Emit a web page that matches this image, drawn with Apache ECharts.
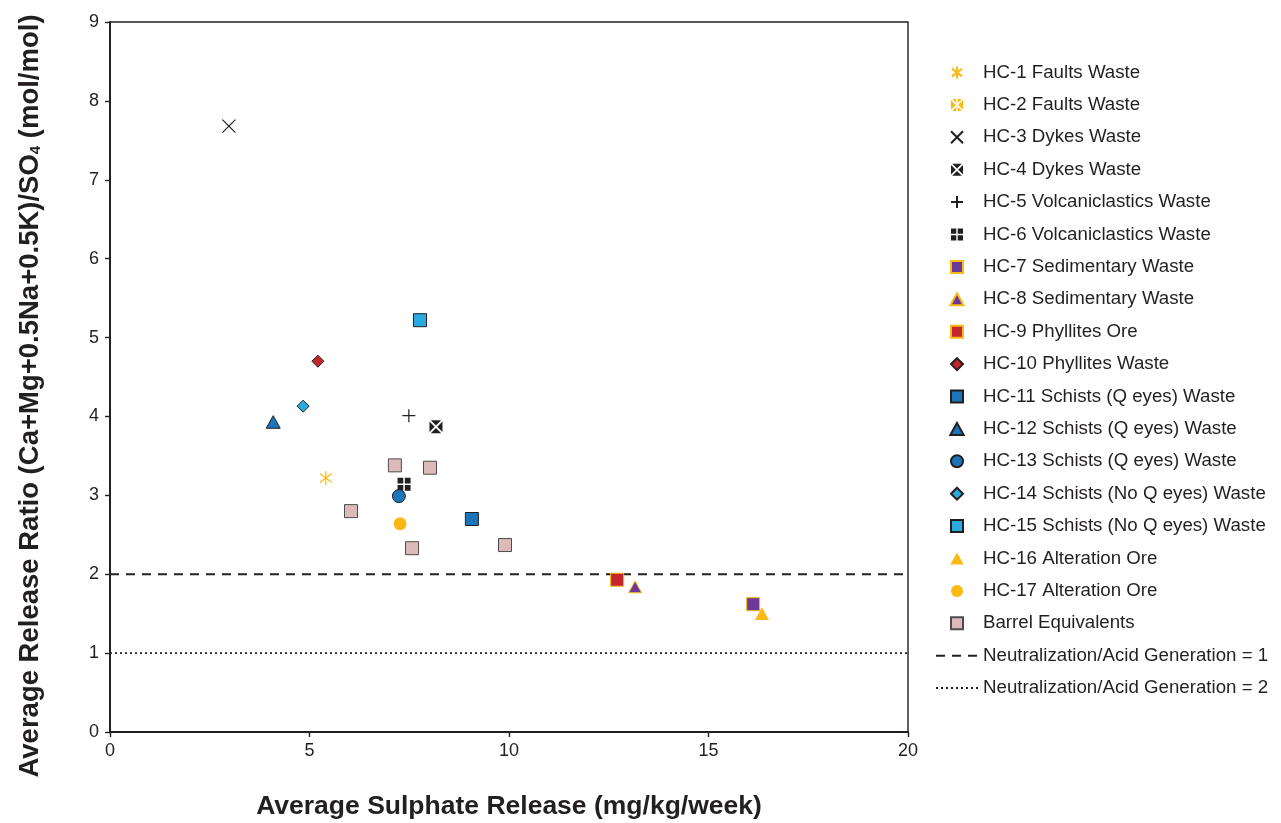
<!DOCTYPE html>
<html>
<head>
<meta charset="utf-8">
<script src="https://cdn.jsdelivr.net/npm/echarts@6/dist/echarts.min.js"></script>
<style>
    html, body { margin: 0; padding: 0; background: #fff; }
    #myChart { width: 1281px; height: 823px; }
</style>
</head>
<body>
<div id="myChart"></div>
<script>
    // series names, in legend order
    var seriesNames = [
        'HC-1 Faults Waste', 'HC-2 Faults Waste', 'HC-3 Dykes Waste', 'HC-4 Dykes Waste',
        'HC-5 Volcaniclastics Waste', 'HC-6 Volcaniclastics Waste', 'HC-7 Sedimentary Waste',
        'HC-8 Sedimentary Waste', 'HC-9 Phyllites Ore', 'HC-10 Phyllites Waste',
        'HC-11 Schists (Q eyes) Waste', 'HC-12 Schists (Q eyes) Waste', 'HC-13 Schists (Q eyes) Waste',
        'HC-14 Schists (No Q eyes) Waste', 'HC-15 Schists (No Q eyes) Waste', 'HC-16 Alteration Ore',
        'HC-17 Alteration Ore', 'Barrel Equivalents'
    ];
    // [sulphate release, release ratio] per series
    var hc1 = [[5.41, 3.22]];
    var hc2 = [];
    var hc3 = [[2.98, 7.68]];
    var hc4 = [[8.17, 3.87]];
    var hc5 = [[7.49, 4.01]];
    var hc6 = [[7.37, 3.14]];
    var hc7 = [[16.12, 1.62]];
    var hc8 = [[13.16, 1.84]];
    var hc9 = [[12.71, 1.93]];
    var hc10 = [[5.21, 4.70]];
    var hc11 = [[9.07, 2.70]];
    var hc12 = [[4.09, 3.93]];
    var hc13 = [[7.24, 2.99]];
    var hc14 = [[4.84, 4.13]];
    var hc15 = [[7.77, 5.22]];
    var hc16 = [[16.34, 1.50]];
    var hc17 = [[7.27, 2.64]];
    var barrel = [[7.14, 3.38], [8.02, 3.35], [6.04, 2.80], [7.57, 2.33], [9.90, 2.37]];

    var limitNames = ['Neutralization/Acid Generation = 1', 'Neutralization/Acid Generation = 2'];
    var limitX = [0, 20];
    var limit1 = [2, 2];
    var limit2 = [1, 1];

    var xTicks = [0, 5, 10, 15, 20];
    var yTicks = [0, 1, 2, 3, 4, 5, 6, 7, 8, 9];

    var SQ = 'path://M0,0L10,0L10,10L0,10Z';
    var TRI = 'path://M5,0L10,9L0,9Z';
    var DIA = 'path://M5,0L10,5L5,10L0,5Z';
    var XM = 'path://M0,0L10,10M10,0L0,10';
    var PLUS = 'path://M5,0L5,10M0,5L10,5';
    var AST = 'path://M0.8,1.8L9.2,8.2M9.2,1.8L0.8,8.2M5,0L5,10';
    var BOXX = 'path://M1,0L9,0L5,4Z M0,1L0,9L4,5Z M10,1L10,9L6,5Z M1,10L9,10L5,6Z';
    var BOXPLUS = 'path://M0,0L4.4,0L4.4,4.4L0,4.4Z M5.6,0L10,0L10,4.4L5.6,4.4Z M0,5.6L4.4,5.6L4.4,10L0,10Z M5.6,5.6L10,5.6L10,10L5.6,10Z';
    var BOXAST = 'path://M1,0L4.4,0L4.4,3.4Z M5.6,0L9,0L5.6,3.4Z M1,10L4.4,10L4.4,6.6Z M5.6,10L9,10L5.6,6.6Z M0,1L0,9L4,5Z M10,1L10,9L6,5Z';

    var yellow = '#FDB913', purple = '#6B3A97', red = '#C1272D', blue = '#1B75BB', cyan = '#29ABE2';
    var ink = '#231F20';

    function scatter(name, data, symbol, size, fill, border, bw) {
        return {
            name: name,
            type: 'scatter',
            data: data,
            symbol: symbol,
            symbolSize: size,
            symbolKeepAspect: true,
            z: 5,
            itemStyle: {
                color: fill,
                borderColor: border,
                borderWidth: bw,
                opacity: 1
            }
        };
    }

    function limitLine(name, ys, type, width) {
        return {
            name: name,
            type: 'line',
            data: limitX.map(function (x, i) { return [x, ys[i]]; }),
            symbol: 'none',
            silent: true,
            z: 2,
            lineStyle: { color: ink, width: width, type: type }
        };
    }

    var series = [
        scatter(seriesNames[0], hc1, AST, 14, 'transparent', yellow, 1.2),
        scatter(seriesNames[1], hc2, BOXAST, 13, yellow, 'transparent', 0),
        scatter(seriesNames[2], hc3, XM, 13, 'transparent', ink, 1.2),
        scatter(seriesNames[3], hc4, BOXX, 13, ink, 'transparent', 0),
        scatter(seriesNames[4], hc5, PLUS, 13, 'transparent', ink, 1.2),
        scatter(seriesNames[5], hc6, BOXPLUS, 13, ink, 'transparent', 0),
        scatter(seriesNames[6], hc7, SQ, 13, purple, yellow, 1),
        scatter(seriesNames[7], hc8, TRI, 13, purple, yellow, 1),
        scatter(seriesNames[8], hc9, SQ, 13, red, yellow, 1),
        scatter(seriesNames[9], hc10, DIA, 12, red, ink, 1),
        scatter(seriesNames[10], hc11, SQ, 13, blue, ink, 1),
        scatter(seriesNames[11], hc12, TRI, 14, blue, ink, 1),
        scatter(seriesNames[12], hc13, 'circle', 13, blue, ink, 1),
        scatter(seriesNames[13], hc14, DIA, 12, cyan, ink, 1),
        scatter(seriesNames[14], hc15, SQ, 13, cyan, ink, 1),
        scatter(seriesNames[15], hc16, TRI, 14, yellow, yellow, 0),
        scatter(seriesNames[16], hc17, 'circle', 13, yellow, yellow, 0),
        scatter(seriesNames[17], barrel, SQ, 13, '#DDB9B9', '#4D4D4D', 1),
        limitLine(limitNames[0], limit1, [9, 7], 2),
        limitLine(limitNames[1], limit2, [2, 3], 1.6)
    ];

    // legend entries; the two limit lines get no marker
    var legendData = seriesNames.concat(limitNames).map(function (n) {
        if (limitNames.indexOf(n) >= 0) {
            return { name: n, itemStyle: { opacity: 0, color: 'transparent', borderColor: 'transparent' } };
        }
        return { name: n };
    });

    var myChart = echarts.init(document.getElementById('myChart'));
    myChart.setOption({
        animation: false,
        textStyle: { fontFamily: 'Liberation Sans, Arial, sans-serif' },
        grid: {
            left: 110, right: 373, top: 22, bottom: 91,
            outerBoundsMode: 'none',
            containLabel: false,
            show: true, borderColor: ink, borderWidth: 1.4
        },
        legend: {
            orient: 'vertical',
            left: 930,
            top: 58,
            itemWidth: 42,
            itemHeight: 12,
            itemGap: 13.4,
            symbolKeepAspect: true,
            data: legendData,
            textStyle: { fontSize: 18.7, color: ink }
        },
        xAxis: {
            type: 'value',
            min: xTicks[0],
            max: xTicks[xTicks.length - 1],
            interval: 5,
            name: 'Average Sulphate Release (mg/kg/week)',
            nameLocation: 'middle',
            nameGap: 61,
            nameTextStyle: { fontSize: 26.5, fontWeight: 'bold', color: ink },
            axisLine: { lineStyle: { color: ink, width: 2 } },
            axisTick: { length: 5, lineStyle: { color: ink, width: 1.4 } },
            axisLabel: { fontSize: 18, color: ink, margin: 10 },
            splitLine: { show: false }
        },
        yAxis: {
            type: 'value',
            min: yTicks[0],
            max: yTicks[yTicks.length - 1],
            interval: 1,
            name: 'Average Release Ratio (Ca+Mg+0.5Na+0.5K)/SO{s|4} (mol/mol)',
            nameLocation: 'middle',
            nameGap: 66,
            nameTextStyle: {
                fontSize: 27.5, fontWeight: 'bold', color: ink,
                padding: [0, 38, 0, 0],
                rich: {
                    s: { fontSize: 15, fontWeight: 'bold', color: ink, padding: [11, 0, 0, 0] }
                }
            },
            axisLine: { lineStyle: { color: ink, width: 2 } },
            axisTick: { length: 5, lineStyle: { color: ink, width: 1.4 } },
            axisLabel: { fontSize: 18, color: ink, margin: 11 },
            splitLine: { show: false }
        },
        series: series
    });
</script>
</body>
</html>
